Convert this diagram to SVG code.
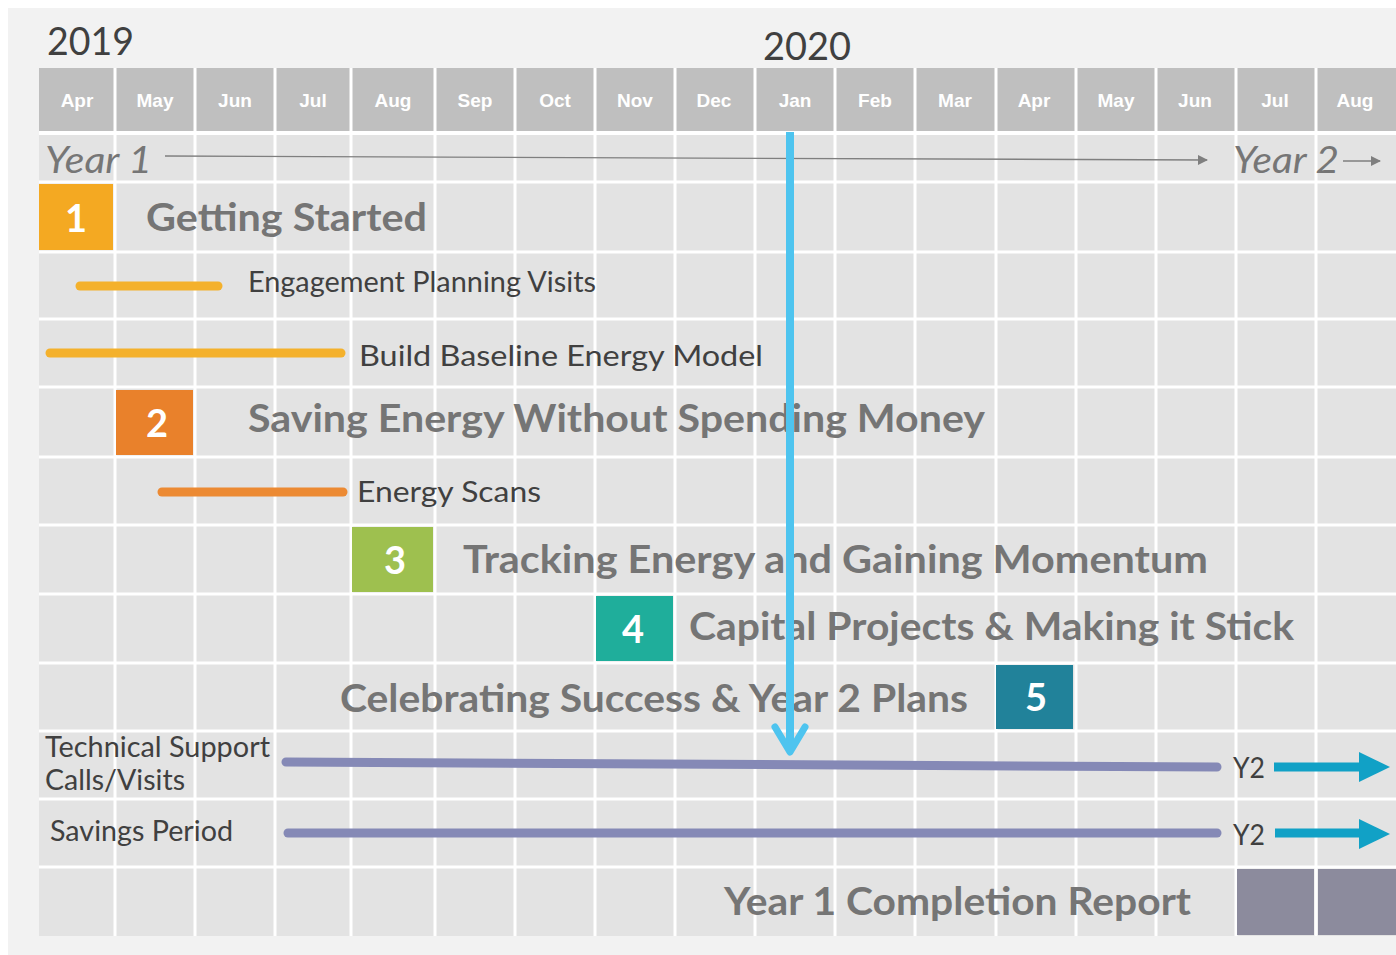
<svg xmlns="http://www.w3.org/2000/svg" width="1396" height="955" viewBox="0 0 1396 955">
<style>
.mon{font-family:"Liberation Sans",Arial,sans-serif;font-weight:bold;font-size:19px;fill:#ffffff;text-anchor:middle}
.yr{font-family:Lato,"Open Sans",sans-serif;font-size:38px;fill:#404040}
.yi{font-family:Lato,"Open Sans",sans-serif;font-style:italic;font-size:36px;fill:#767676}
.ttl{font-family:Lato,"Open Sans",sans-serif;font-weight:bold;font-size:39px;fill:#757575}
.sub{font-family:Lato,"Open Sans",sans-serif;font-size:29px;fill:#404040}
.num{font-family:Lato,"Open Sans",sans-serif;font-weight:bold;font-size:38px;fill:#ffffff;text-anchor:middle}
.grid{stroke:#ffffff;stroke-width:3}
.bar{stroke-width:9;stroke-linecap:round;fill:none}
</style>
<defs>
<marker id="ah" viewBox="0 0 10 10" refX="9" refY="5" markerWidth="12" markerHeight="10" markerUnits="userSpaceOnUse" orient="auto">
<path d="M0,0 L10,5 L0,10 z" fill="#7f7f7f"/>
</marker>
</defs>
<rect x="0" y="0" width="1396" height="955" fill="#ffffff"/>
<rect x="8" y="8" width="1388" height="947" fill="#f2f2f2"/>
<g id="grid">
<rect x="39" y="68" width="1357" height="63" fill="#bfbfbf"/>
<rect x="39" y="133" width="1357" height="803" fill="#e3e3e3"/>
<g class="grid">
<line x1="39" y1="133" x2="1396" y2="133" stroke-width="4"/>
<line x1="39" y1="182" x2="1396" y2="182"/>
<line x1="39" y1="252" x2="1396" y2="252"/>
<line x1="39" y1="319" x2="1396" y2="319"/>
<line x1="39" y1="387" x2="1396" y2="387"/>
<line x1="39" y1="457" x2="1396" y2="457"/>
<line x1="39" y1="525" x2="1396" y2="525"/>
<line x1="39" y1="594" x2="1396" y2="594"/>
<line x1="39" y1="663" x2="1396" y2="663"/>
<line x1="39" y1="731" x2="1396" y2="731"/>
<line x1="39" y1="799" x2="1396" y2="799"/>
<line x1="39" y1="867" x2="1396" y2="867"/>
<line x1="115" y1="68" x2="115" y2="936"/>
<line x1="195" y1="68" x2="195" y2="936"/>
<line x1="275" y1="68" x2="275" y2="936"/>
<line x1="351" y1="68" x2="351" y2="936"/>
<line x1="435" y1="68" x2="435" y2="936"/>
<line x1="515" y1="68" x2="515" y2="936"/>
<line x1="595" y1="68" x2="595" y2="936"/>
<line x1="675" y1="68" x2="675" y2="936"/>
<line x1="755" y1="68" x2="755" y2="936"/>
<line x1="835" y1="68" x2="835" y2="936"/>
<line x1="915" y1="68" x2="915" y2="936"/>
<line x1="996" y1="68" x2="996" y2="936"/>
<line x1="1076" y1="68" x2="1076" y2="936"/>
<line x1="1156" y1="68" x2="1156" y2="936"/>
<line x1="1236" y1="68" x2="1236" y2="936"/>
<line x1="1316" y1="68" x2="1316" y2="936"/>
</g>
</g>
<g id="years">
<text class="yr" x="47" y="55" textLength="87" lengthAdjust="spacingAndGlyphs">2019</text>
<text class="yr" x="763" y="60" textLength="88" lengthAdjust="spacingAndGlyphs">2020</text>
</g>
<g id="months">
<text class="mon" x="77" y="107">Apr</text>
<text class="mon" x="155" y="107">May</text>
<text class="mon" x="235" y="107">Jun</text>
<text class="mon" x="313" y="107">Jul</text>
<text class="mon" x="393" y="107">Aug</text>
<text class="mon" x="475" y="107">Sep</text>
<text class="mon" x="555" y="107">Oct</text>
<text class="mon" x="635" y="107">Nov</text>
<text class="mon" x="714" y="107">Dec</text>
<text class="mon" x="795" y="107">Jan</text>
<text class="mon" x="875" y="107">Feb</text>
<text class="mon" x="955" y="107">Mar</text>
<text class="mon" x="1034" y="107">Apr</text>
<text class="mon" x="1116" y="107">May</text>
<text class="mon" x="1195" y="107">Jun</text>
<text class="mon" x="1275" y="107">Jul</text>
<text class="mon" x="1355" y="107">Aug</text>
</g>
<g id="year-labels">
<text class="yi" x="45" y="173" textLength="107" lengthAdjust="spacingAndGlyphs">Year 1</text>
<text class="yi" x="1233" y="173" textLength="106" lengthAdjust="spacingAndGlyphs">Year 2</text>
</g>
<g id="phase1">
<rect x="39" y="184" width="74" height="66" fill="#f4a922"/>
<text class="num" x="76" y="232">1</text>
<text class="ttl" x="146" y="231" textLength="281" lengthAdjust="spacingAndGlyphs">Getting Started</text>
</g>
<g id="engagement">
<line class="bar" x1="80" y1="286" x2="218" y2="286" stroke="#f4b12c"/>
<text class="sub" x="248" y="292" font-size="27" textLength="348" lengthAdjust="spacingAndGlyphs">Engagement Planning Visits</text>
</g>
<g id="baseline">
<line class="bar" x1="50" y1="353" x2="341" y2="353" stroke="#f4b12c"/>
<text class="sub" x="359" y="366" font-size="31" textLength="404" lengthAdjust="spacingAndGlyphs">Build Baseline Energy Model</text>
</g>
<g id="phase2">
<rect x="116" y="390" width="77" height="65" fill="#e9812b"/>
<text class="num" x="157" y="437">2</text>
<text class="ttl" x="248" y="432" textLength="737" lengthAdjust="spacingAndGlyphs">Saving Energy Without Spending Money</text>
</g>
<g id="scans">
<line class="bar" x1="162" y1="492" x2="343" y2="492" stroke="#ec8a33"/>
<text class="sub" x="357" y="502" font-size="31" textLength="184" lengthAdjust="spacingAndGlyphs">Energy Scans</text>
</g>
<g id="phase3">
<rect x="352" y="527" width="81" height="65" fill="#9ec04f"/>
<text class="num" x="395" y="574">3</text>
<text class="ttl" x="463" y="573" textLength="745" lengthAdjust="spacingAndGlyphs">Tracking Energy and Gaining Momentum</text>
</g>
<g id="phase4">
<rect x="596" y="596" width="77" height="65" fill="#1fae9b"/>
<text class="num" x="633" y="643">4</text>
<text class="ttl" x="689" y="640" textLength="605" lengthAdjust="spacingAndGlyphs">Capital Projects &amp; Making it Stick</text>
</g>
<g id="phase5">
<rect x="996" y="665" width="77" height="64" fill="#21829a"/>
<text class="num" x="1036" y="711">5</text>
<text class="ttl" x="340" y="712" textLength="628" lengthAdjust="spacingAndGlyphs">Celebrating Success &amp; Year 2 Plans</text>
</g>
<g id="tech-support">
<text class="sub" x="45" y="757" font-size="27" textLength="225" lengthAdjust="spacingAndGlyphs">Technical Support</text>
<text class="sub" x="45" y="790" font-size="27" textLength="140" lengthAdjust="spacingAndGlyphs">Calls/Visits</text>
<line class="bar" x1="286" y1="762" x2="1217" y2="767" stroke="#8589b6"/>
<text class="sub" x="1233" y="778" font-size="27" textLength="32" lengthAdjust="spacingAndGlyphs">Y2</text>
</g>
<g id="savings">
<text class="sub" x="50" y="841" font-size="28" textLength="183" lengthAdjust="spacingAndGlyphs">Savings Period</text>
<line class="bar" x1="288" y1="833" x2="1217" y2="833" stroke="#8589b6"/>
<text class="sub" x="1233" y="845" font-size="27" textLength="32" lengthAdjust="spacingAndGlyphs">Y2</text>
</g>
<g id="report">
<text class="ttl" x="724" y="915" textLength="467" lengthAdjust="spacingAndGlyphs">Year 1 Completion Report</text>
<rect x="1237" y="869" width="77" height="66" fill="#8c8b9d"/>
<rect x="1318" y="869" width="78" height="66" fill="#8c8b9d"/>
</g>
<g id="connectors">
<line x1="165" y1="156" x2="1207" y2="160" stroke="#7f7f7f" stroke-width="1.3" marker-end="url(#ah)"/>
<line x1="1343" y1="161" x2="1380" y2="161" stroke="#7f7f7f" stroke-width="1.3" marker-end="url(#ah)"/>
<line x1="1274" y1="767" x2="1362" y2="767" stroke="#11a1c6" stroke-width="9"/>
<polygon points="1359,752 1390,767 1359,782" fill="#11a1c6"/>
<line x1="1275" y1="833" x2="1362" y2="833" stroke="#11a1c6" stroke-width="9"/>
<polygon points="1359,819 1390,834 1359,849" fill="#11a1c6"/>
<line x1="790" y1="132" x2="790" y2="750" stroke="#4ec4ef" stroke-width="8"/>
<polyline points="775,727 790,752 805,727" fill="none" stroke="#4ec4ef" stroke-width="7" stroke-linecap="round" stroke-linejoin="round"/>
</g>
</svg>
